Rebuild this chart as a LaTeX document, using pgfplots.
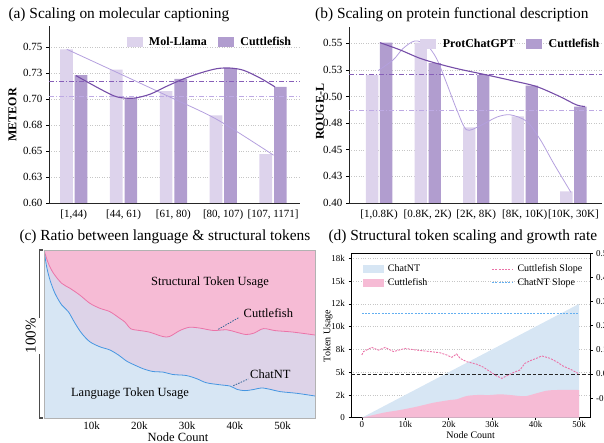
\documentclass[border=0pt]{standalone}
\usepackage{fontspec}
\setmainfont{Liberation Serif}
\usepackage{pgfplots}
\usepackage{pgfplotstable}
\pgfplotsset{compat=1.18}

\definecolor{molfill}{RGB}{221,211,236}
\definecolor{cutfill}{RGB}{177,157,207}
\definecolor{cutline}{RGB}{118,78,168}
\definecolor{molline}{RGB}{180,160,222}
\definecolor{cutavg}{RGB}{135,95,185}
\definecolor{molavg}{RGB}{190,170,228}
\definecolor{pinkfill}{RGB}{246,187,213}
\definecolor{lavfill}{RGB}{221,211,232}
\definecolor{bluefill}{RGB}{215,230,244}
\definecolor{pinkline}{RGB}{235,115,168}
\definecolor{blueline}{RGB}{70,150,225}
\definecolor{slopeblue}{RGB}{100,175,240}
\definecolor{leader}{RGB}{50,100,150}

\pgfplotstableread{
x y
0 1.000
900 0.921
2000 0.861
3700 0.802
5450 0.772
7500 0.732
9600 0.683
11700 0.653
13800 0.633
15900 0.593
17000 0.570
18200 0.531
20000 0.521
22100 0.511
24900 0.485
26300 0.485
28500 0.521
30500 0.540
32700 0.535
35500 0.521
38300 0.525
40300 0.511
42300 0.497
44000 0.505
46000 0.532
48500 0.520
52000 0.512
56800 0.494
}\cutC

\pgfplotstableread{
x y
0 1.000
560 0.900
1260 0.821
2300 0.742
3700 0.673
5100 0.633
6500 0.564
7900 0.504
9600 0.454
11700 0.424
13800 0.405
15600 0.375
17300 0.339
18700 0.319
20800 0.293
22800 0.277
25000 0.273
27000 0.259
29800 0.253
32000 0.234
34000 0.210
36800 0.198
39000 0.190
40500 0.170
42100 0.163
44000 0.170
45600 0.179
47500 0.170
49500 0.157
53000 0.147
56800 0.131
}\chatC

\pgfplotstableread{
x y
0 0
5000 549
8800 845
12600 1208
16500 1647
20300 1943
21800 2020
24100 2382
26400 2492
29500 2492
31800 2569
34100 2492
36400 2382
37900 2382
40200 2679
42500 2964
44800 3041
50000 3041
}\cutD

\pgfplotstableread{
x y
0 0.079
380 0.093
2300 0.110
3800 0.099
5360 0.110
7300 0.093
9960 0.106
12600 0.099
15700 0.093
18000 0.088
19500 0.079
20700 0.069
21800 0.083
22600 0.065
24100 0.051
26400 0.041
28000 0.028
29500 0.010
31000 -0.008
32200 -0.018
33300 -0.008
34900 0.006
36400 0.017
37500 0.044
38700 0.055
40200 0.065
41400 0.075
43300 0.065
44800 0.051
46300 0.033
48300 0.017
50000 0.000
}\slopeD

\pgfplotsset{
  barax/.style={
    scale only axis, anchor=south west,
    axis x line*=bottom, axis y line*=left,
    axis line style={-, line width=0.9pt, black!85},
    ymajorgrids, grid style={dotted, line width=0.5pt, gray!45},
    tick align=outside, major tick length=3pt,
    xtick={0,1,2,3,4}, xtick style={draw=none},
    ytick style={line width=0.6pt, black},
    ticklabel style={font=\fontsize{11}{12}\selectfont},
    legend columns=2,
    legend cell align=left,
    legend style={draw=none, fill=none, anchor=east,
      font=\fontsize{12}{13}\selectfont\bfseries,
      /tikz/every odd column/.append style={column sep=5pt},
      /tikz/every even column/.append style={column sep=9pt}},
  },
}

\begin{document}
\begin{tikzpicture}
\useasboundingbox (0,0) rectangle (604pt,442pt);

% ---------------- (a)
\begin{axis}[barax, at={(49pt,239pt)}, width=251pt, height=176.6pt,
  xmin=-0.496, xmax=4.54, ymin=0.6, ymax=0.77,
  ytick={0.6,0.625,0.65,0.675,0.7,0.725,0.75},
  yticklabels={0.60,0.63,0.65,0.68,0.70,0.73,0.75},
  xticklabels={{[1,44)},{[44, 61)},{[61, 80)},{[80, 107)},{[107, 1171]}},
  legend style={at={(0.985,0.912)}}]
\addlegendimage{legend image code/.code={\fill[molfill] (0pt,-4.5pt) rectangle (15pt,4.5pt);}}
\addlegendentry{Mol-Llama}
\addlegendimage{legend image code/.code={\fill[cutfill] (0pt,-4.5pt) rectangle (15pt,4.5pt);}}
\addlegendentry{Cuttlefish}
\addplot[ybar, bar width=12.7pt, bar shift=-7.3pt, fill=molfill, draw=none, forget plot]
  coordinates {(0,0.748) (1,0.7283) (2,0.7076) (3,0.6843) (4,0.647)};
\addplot[ybar, bar width=12.7pt, bar shift=7.3pt, fill=cutfill, draw=none, forget plot]
  coordinates {(0,0.7232) (1,0.7009) (2,0.7194) (3,0.7299) (4,0.7117)};
\addplot[cutavg, line width=0.8pt, dash pattern=on 5pt off 2pt on 1pt off 2pt, forget plot]
  coordinates {(-0.496,0.717) (4.54,0.717)};
\addplot[molavg, line width=0.8pt, dash pattern=on 5pt off 2pt on 1pt off 2pt, forget plot]
  coordinates {(-0.496,0.7028) (4.54,0.7028)};
\addplot[molline, line width=0.8pt, smooth, forget plot]
  coordinates {(-0.14,0.748) (0.863,0.7258) (1.867,0.7034) (2.87,0.6805) (4.01,0.646)};
\addplot[cutline, line width=1.1pt, smooth, forget plot]
  coordinates {(0.046,0.7226) (0.528,0.7098) (0.863,0.7022) (1.198,0.7009) (1.53,0.7047)
   (1.867,0.7124) (2.2,0.7194) (2.536,0.7251) (2.87,0.7293) (3.14,0.7299) (3.41,0.7277)
   (3.74,0.7203) (4.04,0.7117)};
\end{axis}

% ---------------- (b)
\begin{axis}[barax, at={(349pt,239pt)}, width=253pt, height=175.7pt,
  xmin=-0.62, xmax=4.59, ymin=0.4, ymax=0.565,
  ytick={0.4,0.425,0.45,0.475,0.5,0.525,0.55},
  yticklabels={0.40,0.43,0.45,0.48,0.50,0.53,0.55},
  xticklabels={{[1,0.8K)},{[0.8K, 2K)},{[2K, 8K)},{[8K, 10K)},{[10K, 30K]}},
  legend style={at={(1.01,0.905)}}]
\addlegendimage{legend image code/.code={\fill[molfill] (0pt,-4.5pt) rectangle (15pt,4.5pt);}}
\addlegendentry{ProtChatGPT}
\addlegendimage{legend image code/.code={\fill[cutfill] (0pt,-4.5pt) rectangle (15pt,4.5pt);}}
\addlegendentry{Cuttlefish}
\addplot[ybar, bar width=12.3pt, bar shift=-7pt, fill=molfill, draw=none, forget plot]
  coordinates {(0,0.5203) (1,0.5506) (2,0.4709) (3,0.4813) (4,0.4109)};
\addplot[ybar, bar width=12.3pt, bar shift=7pt, fill=cutfill, draw=none, forget plot]
  coordinates {(0,0.5506) (1,0.5313) (2,0.5203) (3,0.5103) (4,0.4906)};
\addplot[cutavg, line width=0.8pt, dash pattern=on 5pt off 2pt on 1pt off 2pt, forget plot]
  coordinates {(-0.62,0.5206) (4.59,0.5206)};
\addplot[molavg, line width=0.8pt, dash pattern=on 5pt off 2pt on 1pt off 2pt, forget plot]
  coordinates {(-0.62,0.4865) (4.59,0.4865)};
\addplot[molline, line width=0.8pt, smooth, forget plot]
  coordinates {(-0.018,0.5244) (0.29,0.5344) (0.497,0.5453) (0.738,0.5522) (0.979,0.5484)
   (1.18,0.5359) (1.39,0.5125) (1.6,0.4875) (1.8,0.4688) (2.08,0.4725) (2.42,0.4806)
   (2.7,0.4828) (3.04,0.4766) (3.32,0.4594) (3.59,0.4375) (3.95,0.41)};
\addplot[cutline, line width=1.1pt, smooth, forget plot]
  coordinates {(0.016,0.5506) (0.43,0.5438) (0.84,0.5359) (1.25,0.5303) (1.66,0.5256)
   (2.21,0.5203) (2.76,0.5147) (3.24,0.5094) (3.72,0.5) (4.06,0.4922) (4.24,0.4906)};
\end{axis}

% ---------------- (c)
\begin{axis}[scale only axis, at={(44pt,24pt)}, anchor=south west,
  width=271pt, height=168pt, xmin=0, xmax=56800, ymin=0, ymax=1,
  scaled x ticks=false, scaled y ticks=false,
  axis line style={gray!60, line width=0.6pt}, axis on top,
  ytick=\empty, xtick={10000,20000,30000,40000,50000},
  xticklabels={10k,20k,30k,40k,50k}, xtick style={draw=none},
  ticklabel style={font=\fontsize{11}{12}\selectfont}]
\addplot[fill=pinkfill, draw=none] coordinates {(0,1) (56800,1)} \closedcycle;
\addplot[fill=lavfill, draw=none, smooth, tension=0.5] table {\cutC} \closedcycle;
\addplot[fill=bluefill, draw=none, smooth, tension=0.5] table {\chatC} \closedcycle;
\addplot[pinkline, line width=0.8pt, smooth, tension=0.5] table {\cutC};
\addplot[blueline, line width=0.8pt, smooth, tension=0.5] table {\chatC};
\end{axis}

% ---------------- (d)
\begin{axis}[scale only axis, at={(351pt,24.3pt)}, anchor=south west,
  width=239pt, height=164.4pt, xmin=-2500, xmax=52500, ymin=0, ymax=18050,
  scaled x ticks=false, scaled y ticks=false,
  axis line style={line width=1pt, black},
  tick align=outside, major tick length=2.5pt, tick style={black, line width=0.6pt},
  ytick={0,2500,5000,7500,10000,12500,15000,17500},
  yticklabels={0,2k,5k,8k,10k,12k,15k,18k},
  xtick={0,10000,20000,30000,40000,50000},
  xticklabels={0,10k,20k,30k,40k,50k},
  xticklabel style={inner sep=1pt},
  ytick pos=left, xtick pos=bottom,
  ymajorgrids, grid style={dotted, line width=0.5pt, gray!45},
  ticklabel style={font=\fontsize{9}{10}\selectfont},
  legend columns=2, legend cell align=left,
  legend style={at={(0.035,0.955)}, anchor=north west, draw=none, fill=none,
    font=\fontsize{10}{11}\selectfont, row sep=1pt,
    /tikz/every odd column/.append style={column sep=3pt},
    /tikz/every even column/.append style={column sep=62pt}}]
\addlegendimage{legend image code/.code={\fill[bluefill] (0pt,-3.5pt) rectangle (20pt,3.5pt);}}
\addlegendentry{ChatNT}
\addlegendimage{legend image code/.code={\draw[draw=pinkline, line width=1.1pt, dash pattern=on 2pt off 1.3pt] (0pt,0pt) -- (20pt,0pt);}}
\addlegendentry{Cuttlefish Slope}
\addlegendimage{legend image code/.code={\fill[pinkfill] (0pt,-3.5pt) rectangle (20pt,3.5pt);}}
\addlegendentry{Cuttlefish}
\addlegendimage{legend image code/.code={\draw[draw=slopeblue, line width=1.1pt, dash pattern=on 2pt off 1.3pt] (0pt,0pt) -- (20pt,0pt);}}
\addlegendentry{ChatNT Slope}
\addplot[fill=bluefill, draw=none, forget plot] coordinates {(0,0) (50000,12500)} \closedcycle;
\addplot[fill=pinkfill, draw=none, forget plot, smooth, tension=0.4] table {\cutD} \closedcycle;
\end{axis}
\begin{axis}[scale only axis, at={(351pt,24.3pt)}, anchor=south west,
  width=239pt, height=164.4pt, xmin=-2500, xmax=52500, ymin=-0.181, ymax=0.5,
  scaled x ticks=false, scaled y ticks=false,
  axis x line=none, axis y line*=right, axis line style={-, line width=1pt, black},
  tick align=outside, major tick length=2.5pt, tick style={black, line width=0.6pt},
  ytick={-0.1,0,0.1,0.2,0.3,0.4,0.5},
  yticklabels={-0.1,0.0,0.1,0.2,0.3,0.4,0.5},
  ticklabel style={font=\fontsize{9}{10}\selectfont}]
\addplot[gray!30!black, line width=0.8pt, dash pattern=on 3.5pt off 2pt] coordinates {(-2500,0) (52500,0)};
\addplot[draw=slopeblue, line width=1.1pt, dash pattern=on 2pt off 1.3pt] coordinates {(0,0.25) (50000,0.25)};
\addplot[draw=pinkline, line width=0.9pt, dash pattern=on 2pt off 1.2pt] table {\slopeD};
\end{axis}

% ---------------- titles and labels
\node[anchor=base west, font=\fontsize{15.4}{18}\selectfont] at (5pt,423.7pt) {(a) Scaling on molecular captioning};
\node[anchor=base west, font=\fontsize{15.4}{18}\selectfont] at (311.7pt,423.7pt) {(b) Scaling on protein functional description};
\node[anchor=base west, font=\fontsize{15.4}{18}\selectfont] at (16pt,202pt) {(c) Ratio between language \& structural tokens};
\node[anchor=base west, font=\fontsize{15.4}{18}\selectfont] at (325pt,202pt) {(d) Structural token scaling and growth rate};

\node[rotate=90, font=\fontsize{12}{14}\selectfont\bfseries] at (12.5pt,327pt) {METEOR};
\node[rotate=90, font=\fontsize{12}{14}\selectfont\bfseries] at (320pt,330.3pt) {ROUGE-L};

% (c) annotations
\draw[line width=1.2pt, black!70] (43pt,192pt) -- (39.3pt,192pt) -- (39.3pt,124pt);
\draw[line width=1.2pt, black!70] (39.3pt,88pt) -- (39.3pt,24pt) -- (43pt,24pt);
\node[rotate=90, font=\fontsize{15}{17}\selectfont] at (30.8pt,106pt) {100\%};
\node[font=\fontsize{12.5}{14}\selectfont] at (210pt,159.3pt) {Structural Token Usage};
\node[anchor=west, inner sep=0pt, font=\fontsize{12.5}{14}\selectfont] at (243.5pt,129pt) {Cuttlefish};
\node[anchor=west, inner sep=0pt, font=\fontsize{12.5}{14}\selectfont] at (250pt,68pt) {ChatNT};
\node[font=\fontsize{12.5}{14}\selectfont] at (130pt,48pt) {Language Token Usage};
\draw[leader, line width=0.8pt, dash pattern=on 1.5pt off 1.2pt] (218.3pt,112.7pt) -- (239.3pt,124.7pt);
\draw[leader, line width=0.8pt, dash pattern=on 1.5pt off 1.2pt] (233.3pt,56.3pt) -- (248.3pt,63pt);
\node[anchor=base, font=\fontsize{12.5}{14}\selectfont] at (178pt,0.5pt) {Node Count};

% (d) labels
\node[rotate=90, font=\fontsize{10}{12}\selectfont] at (328pt,106pt) {Token Usage};
\node[anchor=base, font=\fontsize{10}{12}\selectfont] at (470.7pt,4pt) {Node Count};
\end{tikzpicture}
\end{document}
